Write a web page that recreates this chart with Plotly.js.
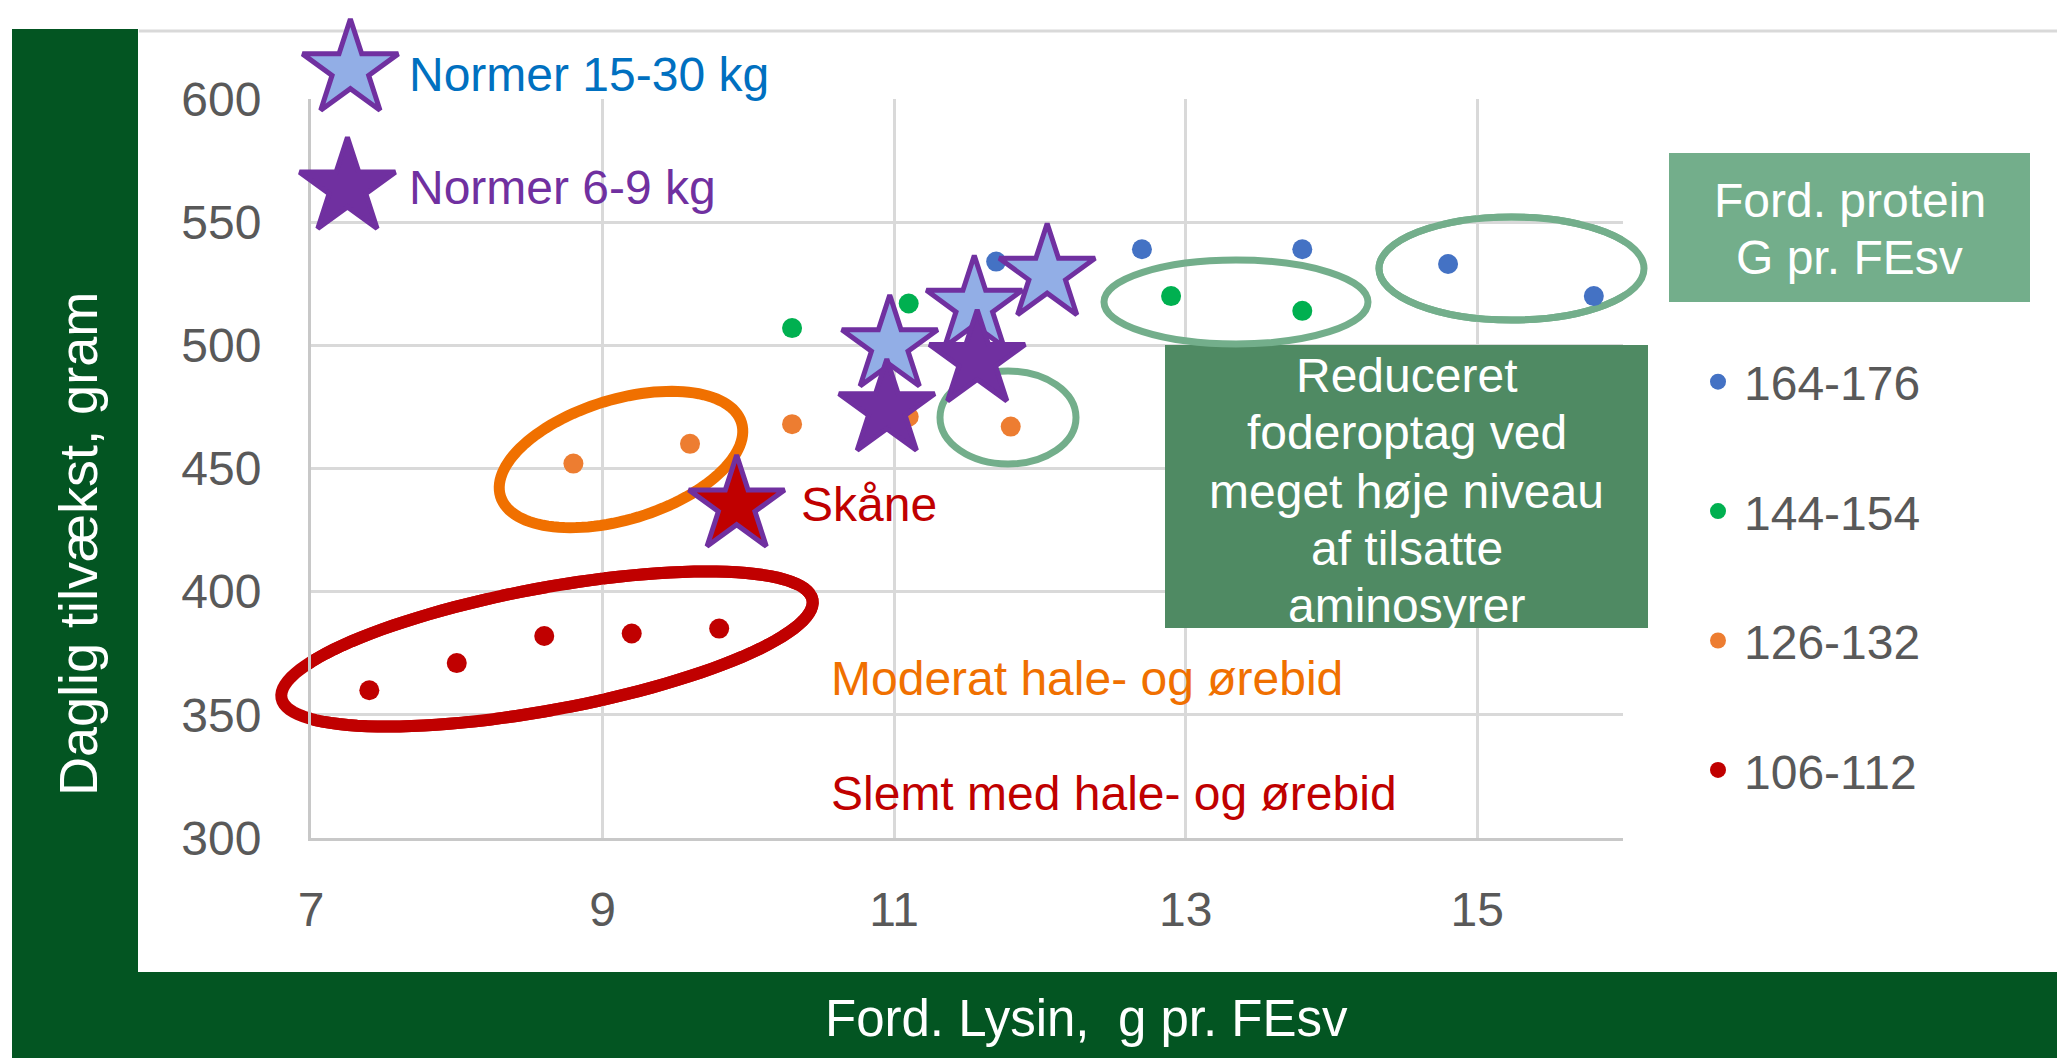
<!DOCTYPE html>
<html>
<head>
<meta charset="utf-8">
<script src="https://cdn.plot.ly/plotly-3.0.1.min.js"></script>
<style>
html,body{margin:0;padding:0;background:#ffffff;}
#chart{width:2057px;height:1058px;}
</style>
</head>
<body>
<div id="chart"></div>
<script>
// ---------------- DATA ----------------
const seriesNames = ['164-176', '144-154', '126-132', '106-112'];
const lysin164 = [11.7, 12.7, 13.8, 14.8, 15.8];
const tilv164  = [534, 539, 539, 533, 520];
const lysin144 = [10.3, 11.1, 12.9, 13.8];
const tilv144  = [507, 517, 520, 514];
const lysin126 = [8.8, 9.6, 10.3, 11.1, 11.8];
const tilv126  = [452, 460, 468, 471, 467];
const lysin106 = [7.4, 8.0, 8.6, 9.2, 9.8];
const tilv106  = [360, 371, 382, 383, 385];

const normer1530Lysin = [10.97, 11.55, 12.05];
const normer1530Tilv  = [500, 516, 529];
const normer69Lysin   = [10.95, 11.57];
const normer69Tilv    = [474, 494];
const skaaneLysin     = [9.92];
const skaaneTilv      = [435];
// key (legend-like) stars at the top left
const keyStar1530Lysin = [7.27];
const keyStar1530Tilv  = [612];
const keyStar69Lysin   = [7.25];
const keyStar69Tilv    = [564];

const xTickVals = [7, 9, 11, 13, 15];
const yTickVals = [300, 350, 400, 450, 500, 550, 600];

const boxLines = ['Reduceret', 'foderoptag ved', 'meget høje niveau', 'af tilsatte', 'aminosyrer'];
const legendTitleLines = ['Ford. protein', 'G pr. FEsv'];

// ---------------- LAYOUT HELPERS ----------------
const W = 2057, H = 1058;
const L = 311, PW = 1312;          // plot area x: 311..1623
const PT = 20, B0 = 838;           // paper area y: 20..838
const T1 = 99;                     // top of main y axis (600)
const PHP = B0 - PT, PH1 = B0 - T1;
const XR = [7, 16], YR = [300, 600];
const YR2 = [300, 300 + PHP * (YR[1] - YR[0]) / PH1];
const pX = px => (px - L) / PW;
const pY = py => (B0 - py) / PHP;
const dX = px => XR[0] + (px - L) / PW * (XR[1] - XR[0]);
const dY = py => YR[0] + (B0 - py) / PH1 * (YR[1] - YR[0]);

const FONT = 'Arial, "Liberation Sans", sans-serif';
const darkGreen = '#035522';
const boxGreen = '#4F8A63';
const lightGreen = '#73AE8B';
const purple = '#7030A0';

function refs(ref) { return ref === 'paper' ? ['paper', 'paper', pX, pY] : ['x', 'y', dX, dY]; }
function rect(x0, y0, x1, y1, fill, ref, layer) {
  const [xr, yr, fx, fy] = refs(ref);
  return {type: 'rect', xref: xr, yref: yr, x0: fx(x0), x1: fx(x1), y0: fy(y1), y1: fy(y0),
    fillcolor: fill, line: {width: 0}, layer: layer};
}
function oval(x0, y0, x1, y1, color, width, ref, layer) {
  const [xr, yr, fx, fy] = refs(ref);
  return {type: 'circle', xref: xr, yref: yr, x0: fx(x0), x1: fx(x1), y0: fy(y1), y1: fy(y0),
    line: {color: color, width: width}, layer: layer};
}
function tiltedOval(cx, cy, a, b, deg, color, width, ref, layer) {
  const [xr, yr, fx, fy] = refs(ref);
  const th = deg * Math.PI / 180;
  let d = '';
  for (let i = 0; i <= 120; i++) {
    const t = i / 120 * 2 * Math.PI;
    const px = cx + a * Math.cos(t) * Math.cos(th) - b * Math.sin(t) * Math.sin(th);
    const py = cy - (a * Math.cos(t) * Math.sin(th) + b * Math.sin(t) * Math.cos(th));
    d += (i ? 'L' : 'M') + fx(px).toFixed(5) + ',' + fy(py).toFixed(5);
  }
  d += 'Z';
  return {type: 'path', xref: xr, yref: yr, path: d, line: {color: color, width: width}, layer: layer};
}

// ---------------- TRACES ----------------
const dotColors = ['#4472C4', '#00B050', '#ED7D31', '#C00000'];
const dotX = [lysin164, lysin144, lysin126, lysin106];
const dotY = [tilv164, tilv144, tilv126, tilv106];

const traces = [];
for (let i = 0; i < 4; i++) {
  traces.push({
    type: 'scatter', mode: 'markers', name: seriesNames[i],
    x: dotX[i], y: dotY[i], legendgroup: 'g' + i,
    marker: {color: dotColors[i], size: 20, line: {width: 0}},
    cliponaxis: false, hoverinfo: 'skip'
  });
}
function starTrace(name, x, y, fill, xa, ya) {
  return {type: 'scatter', mode: 'markers', name: name, x: x, y: y, showlegend: false,
    xaxis: xa || 'x', yaxis: ya || 'y',
    marker: {symbol: 'star', size: 72, color: fill, line: {color: purple, width: 5}},
    cliponaxis: false, hoverinfo: 'skip'};
}
traces.push(starTrace('Normer 15-30 kg', normer1530Lysin, normer1530Tilv, '#92AEE6'));
traces.push(starTrace('Normer 6-9 kg', normer69Lysin, normer69Tilv, purple));
traces.push(starTrace('Skåne', skaaneLysin, skaaneTilv, '#C00000'));
traces.push(starTrace('Normer 15-30 kg (nøgle)', keyStar1530Lysin, keyStar1530Tilv, '#92AEE6', 'x2', 'y2'));
traces.push(starTrace('Normer 6-9 kg (nøgle)', keyStar69Lysin, keyStar69Tilv, purple, 'x2', 'y2'));

// ---------------- SHAPES ----------------
const shapes = [
  rect(12, 29, 138, 1058, darkGreen, 'paper', 'below'),
  rect(12, 972, 2057, 1058, darkGreen, 'paper', 'below'),
  {type: 'line', xref: 'paper', yref: 'paper', x0: pX(139), x1: pX(2057), y0: pY(31), y1: pY(31),
   line: {color: '#d9d9d9', width: 3}, layer: 'below'},
  rect(1669, 153, 2030, 302, lightGreen, 'paper', 'below'),
  rect(1165, 345, 1648, 628, boxGreen, 'paper', 'below'),
  rect(1165, 345, 1648, 628, boxGreen, 'data', 'between'),
  tiltedOval(547, 649, 270, 61, 10.5, '#C00000', 12, 'paper', 'below'),
  tiltedOval(547, 649, 270, 61, 10.5, '#C00000', 12, 'data', 'between'),
  tiltedOval(621, 459.5, 126, 60, 17, '#F07000', 11, 'data', 'between'),
  oval(940, 371, 1076, 464, lightGreen, 7, 'data', 'between'),
  oval(1104, 260, 1368, 344, lightGreen, 7, 'data', 'between'),
  oval(1379, 217, 1644, 320, lightGreen, 7, 'paper', 'below'),
  oval(1379, 217, 1644, 320, lightGreen, 7, 'data', 'between')
];

// ---------------- ANNOTATIONS ----------------
function txt(text, x, y, color, size, xanchor, xref, yref, extra) {
  const a = {text: text, x: x, y: y, xref: xref, yref: yref,
    showarrow: false, xanchor: xanchor, yanchor: 'middle',
    font: {family: FONT, size: size, color: color}};
  return Object.assign(a, extra || {});
}
const annotations = [
  txt('Daglig tilvækst, gram', pX(78), pY(544), '#ffffff', 54, 'center', 'paper', 'paper', {textangle: -90}),
  txt('Ford. Lysin,\u00a0 g pr. FEsv', pX(1086), pY(1018), '#ffffff', 51, 'center', 'paper', 'paper'),
  txt('Normer 15-30 kg', 7.66, 609.9, '#0070C0', 48, 'left', 'x2', 'y2'),
  txt('Normer 6-9 kg', 7.66, 564.2, purple, 48, 'left', 'x2', 'y2'),
  txt('Skåne', 10.35, 435.2, '#C00000', 48, 'left', 'x', 'y'),
  txt('Moderat hale- og ørebid', 10.55, 364.9, '#F07000', 48, 'left', 'x', 'y'),
  txt('Slemt med hale- og ørebid', 10.55, 318.2, '#C00000', 48, 'left', 'x', 'y')
];
const boxLineY = [375, 432, 491, 548, 605];
boxLines.forEach((s, i) => annotations.push(txt(s, pX(1406.5), pY(boxLineY[i]), '#ffffff', 48, 'center', 'paper', 'paper')));
const ltY = [200, 257];
legendTitleLines.forEach((s, i) => annotations.push(txt(s, pX(1849.5), pY(ltY[i]), '#ffffff', 48, 'center', 'paper', 'paper')));

// ---------------- LAYOUT ----------------
const axisCommon = {
  showgrid: true, gridcolor: '#d9d9d9', gridwidth: 3,
  showline: true, linecolor: '#c8c8c8', linewidth: 3,
  zeroline: false, ticks: '',
  tickfont: {family: FONT, size: 48, color: '#595959'}
};
const layout = {
  width: W, height: H,
  margin: {l: L, r: W - L - PW, t: PT, b: H - B0, autoexpand: false},
  paper_bgcolor: '#ffffff', plot_bgcolor: 'rgba(0,0,0,0)',
  font: {family: FONT},
  xaxis: Object.assign({}, axisCommon, {range: XR, tickvals: xTickVals, ticktext: xTickVals.map(String),
    ticklabelstandoff: 27, anchor: 'y'}),
  yaxis: Object.assign({}, axisCommon, {range: YR, tickvals: yTickVals, ticktext: yTickVals.map(String),
    ticklabelstandoff: 37, domain: [0, PH1 / PHP], anchor: 'x'}),
  xaxis2: {range: XR, domain: [0, 1], anchor: 'y2', visible: false, showgrid: false, zeroline: false},
  yaxis2: {range: YR2, domain: [0, 1], anchor: 'x2', visible: false, showgrid: false, zeroline: false},
  showlegend: true,
  legend: {x: pX(1692), xanchor: 'left', y: pY(344), yanchor: 'top', tracegroupgap: 64, itemwidth: 42,
    bgcolor: 'rgba(0,0,0,0)', borderwidth: 0,
    font: {family: FONT, size: 48, color: '#595959'}},
  shapes: shapes,
  annotations: annotations
};

Plotly.newPlot('chart', traces, layout, {displayModeBar: false, staticPlot: true});
</script>
</body>
</html>
